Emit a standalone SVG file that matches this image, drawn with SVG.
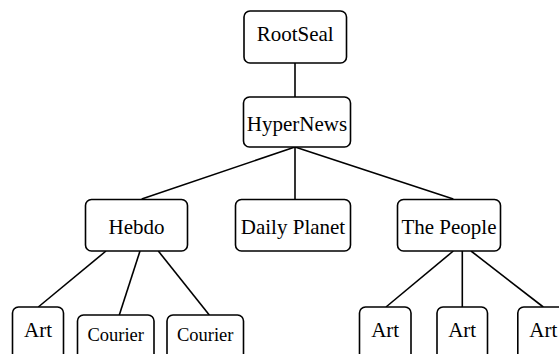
<svg xmlns="http://www.w3.org/2000/svg" width="559" height="354" viewBox="0 0 559 354">
<style>
rect{fill:#fff;stroke:#000;stroke-width:1.6}
text{font-family:'Liberation Serif',Tinos,'DejaVu Serif',serif;font-size:21px;fill:#000;text-anchor:middle}
text.s{font-size:18.5px}
#edges line{stroke:#000;stroke-width:1.6}
</style>
<rect x="0" y="0" width="559" height="354" style="stroke:none"/>
<g id="edges">
<line x1="295" y1="63" x2="295" y2="97"/>
<line x1="295" y1="147" x2="141.7" y2="199"/>
<line x1="295" y1="147" x2="295" y2="199"/>
<line x1="295" y1="147" x2="453.3" y2="199"/>
<line x1="106" y1="251" x2="38.3" y2="307"/>
<line x1="140" y1="251" x2="119.3" y2="315"/>
<line x1="158.3" y1="251" x2="209.3" y2="315"/>
<line x1="453.3" y1="251" x2="386" y2="307"/>
<line x1="462.3" y1="251" x2="462.3" y2="307"/>
<line x1="471" y1="251" x2="543.3" y2="307"/>
</g>
<g id="rootseal"><rect x="244" y="11" width="102.5" height="52" rx="6"/><text x="295.2" y="41" font-family="Liberation Serif">RootSeal</text></g>
<g id="hypernews"><rect x="243.5" y="97" width="107" height="50" rx="6"/><text x="297" y="131">HyperNews</text></g>
<g id="hebdo"><rect x="85.5" y="199.5" width="102" height="51.5" rx="6"/><text x="136.5" y="234">Hebdo</text></g>
<g id="dailyplanet"><rect x="235.5" y="199.5" width="115" height="51.5" rx="6"/><text x="293" y="234">Daily Planet</text></g>
<g id="thepeople"><rect x="397.5" y="199.5" width="103" height="51.5" rx="6"/><text x="449" y="234">The People</text></g>
<g id="art1"><rect x="12.5" y="307" width="51" height="55" rx="6"/><text x="38" y="337">Art</text></g>
<g id="courier1"><rect x="77.5" y="315" width="76.5" height="47" rx="6"/><text class="s" x="115.7" y="340.5">Courier</text></g>
<g id="courier2"><rect x="167" y="315" width="76.5" height="47" rx="6"/><text class="s" x="205.2" y="340.5">Courier</text></g>
<g id="art2"><rect x="359.5" y="307" width="51.5" height="55" rx="6"/><text x="385.2" y="337">Art</text></g>
<g id="art3"><rect x="437" y="307" width="50.5" height="55" rx="6"/><text x="462.2" y="337">Art</text></g>
<g id="art4"><rect x="517.8" y="307" width="51" height="55" rx="6"/><text x="543.3" y="337">Art</text></g>
</svg>
